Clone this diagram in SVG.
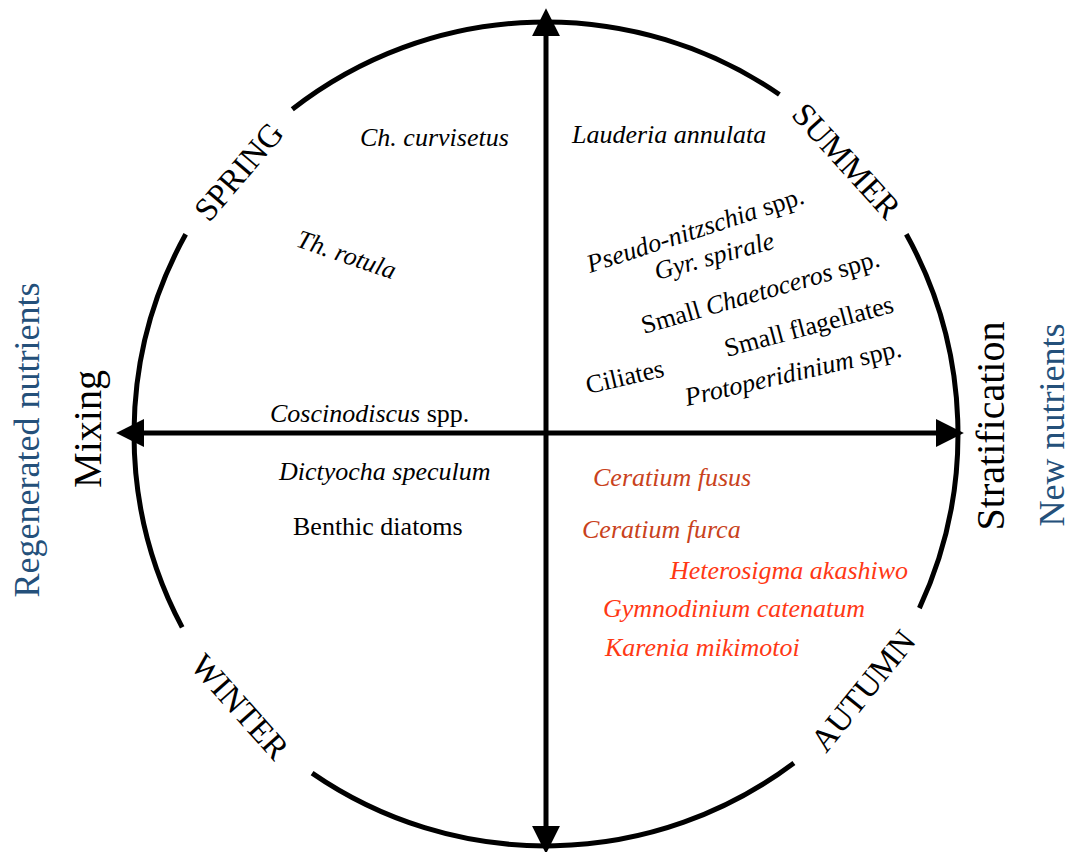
<svg xmlns="http://www.w3.org/2000/svg" width="1071" height="852" viewBox="0 0 1071 852">
<style>
text{font-family:"Liberation Serif","Times New Roman",serif;fill:#000}
.b{font-size:26px}
.i{font-style:italic}
.season{font-size:33px}
.axis{font-size:40px}
.nut{font-size:36px;fill:#24507a}
.red{fill:#ff3814}
.dred{fill:#c9421c}
.arc{fill:none;stroke:#000;stroke-width:5}
.ax{stroke:#000;stroke-width:5;marker-start:url(#ah);marker-end:url(#ah)}
</style>
<defs>
<marker id="ah" markerUnits="userSpaceOnUse" markerWidth="28" markerHeight="28" viewBox="0 0 26 26" refX="15" refY="13" orient="auto-start-reverse">
<path d="M0,0 L26,13 L0,26 z" fill="#000"/>
</marker>
</defs>
<g id="circle">
<path class="arc" d="M292.3,109.3 A412,412 0 0 1 779.4,94.5"/>
<path class="arc" d="M906.3,234.3 A412,412 0 0 1 919.4,608.1"/>
<path class="arc" d="M793.9,763 A412,412 0 0 1 312.1,773.1"/>
<path class="arc" d="M182.2,627.4 A412,412 0 0 1 185.7,234.3"/>
</g>
<g id="connectors">
<line class="ax" x1="546" y1="842" x2="546" y2="20"/>
<line class="ax" x1="952" y1="433" x2="128" y2="433"/>
</g>
<g id="seasons">
<g id="spring"><text class="season" transform="translate(232.7,166.4) rotate(-49.5)" y="19" text-anchor="middle">SPRING</text></g>
<g id="summer"><text class="season" transform="translate(850.9,156.9) rotate(47.75)" y="17" text-anchor="middle">SUMMER</text></g>
<g id="winter"><text class="season" transform="translate(238.4,708.1) rotate(48.3)" y="9" text-anchor="middle">WINTER</text></g>
<g id="autumn"><text class="season" transform="translate(866.2,693.3) rotate(-51)" y="7" text-anchor="middle">AUTUMN</text></g>
</g>
<g id="axis-labels">
<g id="mixing"><text class="axis" transform="translate(101,429) rotate(-90)" text-anchor="middle">Mixing</text></g>
<g id="stratification"><text class="axis" transform="translate(1004,426) rotate(-90)" text-anchor="middle">Stratification</text></g>
<g id="regenerated"><text class="nut" transform="translate(39,440) rotate(-90)" text-anchor="middle">Regenerated nutrients</text></g>
<g id="new"><text class="nut" transform="translate(1064,425) rotate(-90)" text-anchor="middle">New nutrients</text></g>
</g>
<g id="spring-taxa">
<text class="b i" x="360" y="146">Ch. curvisetus</text>
<text class="b i" transform="translate(295,246) rotate(19)">Th. rotula</text>
<text class="b" x="270" y="422"><tspan class="i">Coscinodiscus</tspan> spp.</text>
</g>
<g id="summer-taxa">
<text class="b i" x="572" y="143">Lauderia annulata</text>
<text class="b" transform="translate(590,273) rotate(-18)"><tspan class="i">Pseudo-nitzschia</tspan> spp.</text>
<text class="b i" transform="translate(657,280) rotate(-15)">Gyr. spirale</text>
<text class="b" transform="translate(644,334) rotate(-16)">Small <tspan class="i">Chaetoceros</tspan> spp.</text>
<text class="b" transform="translate(727,357) rotate(-15)">Small flagellates</text>
<text class="b" transform="translate(588,394) rotate(-13)">Ciliates</text>
<text class="b" transform="translate(687,406) rotate(-13)"><tspan class="i">Protoperidinium</tspan> spp.</text>
</g>
<g id="winter-taxa">
<text class="b i" x="279" y="480">Dictyocha speculum</text>
<text class="b" x="293" y="535">Benthic diatoms</text>
</g>
<g id="autumn-taxa">
<text class="b i dred" x="593" y="486">Ceratium fusus</text>
<text class="b i dred" x="582" y="538">Ceratium furca</text>
<text class="b i red" x="670" y="579">Heterosigma akashiwo</text>
<text class="b i red" x="603" y="617">Gymnodinium catenatum</text>
<text class="b i red" x="605" y="656">Karenia mikimotoi</text>
</g>
</svg>
